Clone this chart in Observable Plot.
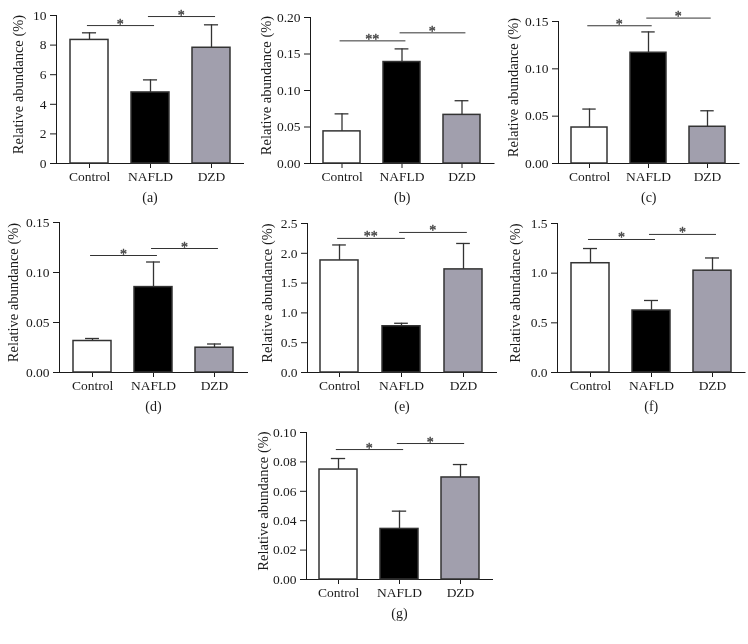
<!DOCTYPE html>
<html><head><meta charset="utf-8">
<script src="https://cdn.jsdelivr.net/npm/d3@7"></script>
<script src="https://cdn.jsdelivr.net/npm/@observablehq/plot@0.6"></script>
<style>
body{margin:0;background:#fff;}
#wrap{position:relative;width:748px;height:644px;overflow:hidden;background:#fff;}
#wrap svg{position:absolute;overflow:visible;will-change:transform;}
</style></head><body><div id="wrap"></div>
<script>
// ---- data ----
const groups = ["Control", "NAFLD", "DZD"];
const groupFills = ["#ffffff", "#000000", "#a19fad"];
const yLabel = "Relative abundance (%)";

const meanA = [8.35, 4.8, 7.82];     const upperA = [8.83, 5.65, 9.37];  const sigA = [9.32, 9.93];   const starsA = ["*", "*"];  const ticksA = [0, 2, 4, 6, 8, 10];
const meanB = [0.044, 0.139, 0.0666]; const upperB = [0.068, 0.157, 0.086]; const sigB = [0.168, 0.179]; const starsB = ["**", "*"]; const ticksB = [0, 0.05, 0.10, 0.15, 0.20];
const meanC = [0.038, 0.117, 0.0388]; const upperC = [0.0575, 0.139, 0.0557]; const sigC = [0.1455, 0.1536]; const starsC = ["*", "*"]; const ticksC = [0, 0.05, 0.10, 0.15];
const meanD = [0.0315, 0.0854, 0.0248]; const upperD = [0.034, 0.1105, 0.0285]; const sigD = [0.117, 0.124]; const starsD = ["*", "*"]; const ticksD = [0, 0.05, 0.10, 0.15];
const meanE = [1.88, 0.776, 1.73];   const upperE = [2.14, 0.826, 2.165]; const sigE = [2.25, 2.35];   const starsE = ["**", "*"]; const ticksE = [0, 0.5, 1.0, 1.5, 2.0, 2.5];
const meanF = [1.10, 0.624, 1.025];  const upperF = [1.248, 0.725, 1.153]; const sigF = [1.339, 1.39]; const starsF = ["*", "*"];  const ticksF = [0, 0.5, 1.0, 1.5];
const meanG = [0.0748, 0.0344, 0.0694]; const upperG = [0.0823, 0.0465, 0.0782]; const sigG = [0.0884, 0.0925]; const starsG = ["*", "*"]; const ticksG = [0, 0.02, 0.04, 0.06, 0.08, 0.10];

const panels = [
  {caption: "(a)", mean: meanA, upper: upperA, sig: sigA, stars: starsA, ticks: ticksA, digits: 0},
  {caption: "(b)", mean: meanB, upper: upperB, sig: sigB, stars: starsB, ticks: ticksB, digits: 2},
  {caption: "(c)", mean: meanC, upper: upperC, sig: sigC, stars: starsC, ticks: ticksC, digits: 2},
  {caption: "(d)", mean: meanD, upper: upperD, sig: sigD, stars: starsD, ticks: ticksD, digits: 2},
  {caption: "(e)", mean: meanE, upper: upperE, sig: sigE, stars: starsE, ticks: ticksE, digits: 1},
  {caption: "(f)", mean: meanF, upper: upperF, sig: sigF, stars: starsF, ticks: ticksF, digits: 1},
  {caption: "(g)", mean: meanG, upper: upperG, sig: sigG, stars: starsG, ticks: ticksG, digits: 2}
];

// ---- layout (pixels): y-axis x position, plot width, svg top, top margin, plot height, y-label offset ----
const layout = [
  {axis: 55.6, w: 187,   top: 0,   mt: 15, h: 148, ldx: -38},
  {axis: 310,  w: 183.5, top: 0,   mt: 17, h: 146, ldx: -44},
  {axis: 558,  w: 180.5, top: 0,   mt: 21, h: 142, ldx: -45},
  {axis: 59,   w: 188,   top: 205, mt: 17, h: 150, ldx: -46},
  {axis: 307,  w: 189,   top: 205, mt: 18, h: 149, ldx: -40},
  {axis: 557,  w: 187.5, top: 205, mt: 18, h: 149, ldx: -42},
  {axis: 306,  w: 186,   top: 415, mt: 17, h: 147, ldx: -43}
];

const wrap = document.getElementById("wrap");
const ML = 60, MR = 6, MB = 42;
const PI = 0.385, PO = 0.21;
const ink = "#333";
const txt = "#1a1a1a";

panels.forEach((p, k) => {
  const L = layout[k];
  const step = L.w / (3 - PI + 2 * PO);
  const bw = step * (1 - PI);
  const data = groups.map((g, i) => ({group: g, mean: p.mean[i], upper: p.upper[i]}));
  const sigData = [
    {x1: groups[0], x2: groups[1], y: p.sig[0], s: p.stars[0]},
    {x1: groups[1], x2: groups[2], y: p.sig[1], s: p.stars[1]}
  ];
  const chart = Plot.plot({
    width: ML + L.w + MR, height: L.mt + L.h + MB,
    marginLeft: ML, marginRight: MR, marginTop: L.mt, marginBottom: MB,
    style: {fontFamily: "Liberation Serif", fontSize: "13.5px", color: txt, background: "transparent", overflow: "visible"},
    x: {domain: groups, paddingInner: PI, paddingOuter: PO, label: null, tickSize: 5, tickPadding: 3, line: true},
    y: {domain: [0, p.ticks[p.ticks.length - 1]], ticks: p.ticks, tickFormat: d => d.toFixed(p.digits), label: null, tickSize: 6, tickPadding: 4, line: true},
    color: {domain: groups, range: groupFills},
    marks: [
      Plot.ruleX(data, {x: "group", y1: "mean", y2: "upper", stroke: ink, strokeWidth: 1.3}),
      Plot.tickY(data, {x: "group", y: "upper", stroke: ink, strokeWidth: 1.3, insetLeft: bw / 2 - 7, insetRight: bw / 2 - 7}),
      Plot.barY(data, {x: "group", y: "mean", fill: "group", stroke: ink, strokeWidth: 1.5}),
      Plot.ruleY(sigData, {x1: "x1", x2: "x2", y: "y", stroke: ink, strokeWidth: 1, insetLeft: bw / 2 - 2, insetRight: bw / 2 - 4}),
      Plot.text(sigData, {x: "x1", y: "y", text: "s", dx: step / 2, dy: 3, lineAnchor: "bottom", fontSize: 14, fill: "#444", stroke: "#444", strokeWidth: 0.4}),
      Plot.text([yLabel], {frameAnchor: "left", textAnchor: "middle", rotate: -90, dx: L.ldx, dy: -5, fontSize: 14.5, fill: txt}),
      Plot.text([p.caption], {frameAnchor: "bottom", textAnchor: "middle", dy: 38, fontSize: 14, fill: txt})
    ]
  });
  chart.style.left = (L.axis - ML) + "px";
  chart.style.top = L.top + "px";
  wrap.appendChild(chart);
});
</script>
</body></html>
